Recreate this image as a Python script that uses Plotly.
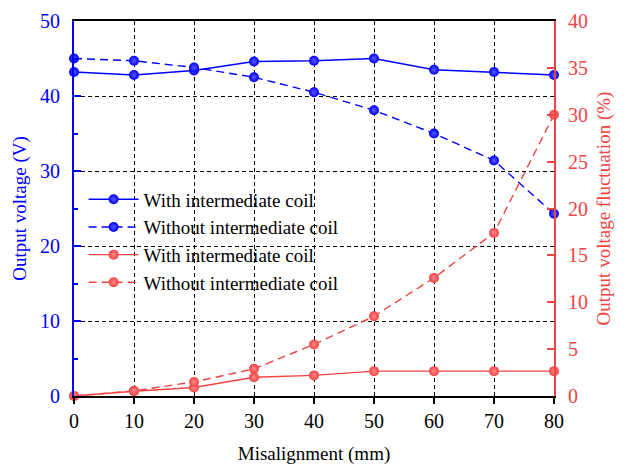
import plotly.graph_objects as go

# Misalignment positions (mm)
misalignment = [0, 10, 20, 30, 40, 50, 60, 70, 80]

# Output voltage (V)
voltage_with = [43.2, 42.8, 43.4, 44.6, 44.7, 45.0, 43.5, 43.2, 42.8]
voltage_without = [45.0, 44.7, 43.8, 42.5, 40.5, 38.1, 35.0, 31.4, 24.3]

# Output voltage fluctuation (%)
fluct_with = [0.0, 0.5, 0.9, 2.0, 2.2, 2.65, 2.65, 2.65, 2.65]
fluct_without = [0.0, 0.55, 1.5, 2.9, 5.5, 8.5, 12.6, 17.4, 30.0]

x_ticks = [0, 10, 20, 30, 40, 50, 60, 70, 80]
left_ticks = [0, 10, 20, 30, 40, 50]
right_ticks = [0, 5, 10, 15, 20, 25, 30, 35, 40]

BLUE = "#0000ff"
RED = "#f04343"
FONT = "Liberation Serif"
FS = 19
TICK_FS = 20


def marker(color, light):
    return dict(size=10, color=color, symbol="circle", line=dict(width=0),
                gradient=dict(type="radial", color=light))


fig = go.Figure()
fig.add_trace(go.Scatter(
    x=misalignment, y=voltage_with, name="With intermediate coil",
    mode="lines+markers", line=dict(color=BLUE, width=1.4),
    marker=marker(BLUE, "#5a5aff"), cliponaxis=False, yaxis="y"))
fig.add_trace(go.Scatter(
    x=misalignment, y=voltage_without, name="Without intermediate coil",
    mode="lines+markers", line=dict(color=BLUE, width=1.4, dash="8px,5px"),
    marker=marker(BLUE, "#5a5aff"), cliponaxis=False, yaxis="y"))
fig.add_trace(go.Scatter(
    x=misalignment, y=fluct_with, name="With intermediate coil",
    mode="lines+markers", line=dict(color=RED, width=1.4),
    marker=marker(RED, "#ff8a8a"), cliponaxis=False, yaxis="y2"))
fig.add_trace(go.Scatter(
    x=misalignment, y=fluct_without, name="Without intermediate coil",
    mode="lines+markers", line=dict(color=RED, width=1.4, dash="8px,5px"),
    marker=marker(RED, "#ff8a8a"), cliponaxis=False, yaxis="y2"))

fig.update_layout(
    width=631, height=471,
    margin=dict(l=74, r=77, t=10, b=74),
    paper_bgcolor="white", plot_bgcolor="white",
    font=dict(family=FONT, size=FS, color="black"),
    showlegend=True,
    legend=dict(x=0.02, y=0.575, xanchor="left", yanchor="top",
                bgcolor="rgba(0,0,0,0)", font=dict(family=FONT, size=FS, color="black"),
                itemwidth=50, tracegroupgap=0, traceorder="normal"),
    xaxis=dict(
        range=[0, 80], tickvals=x_ticks,
        title=dict(text="Misalignment (mm)", font=dict(family=FONT, size=FS), standoff=16),
        showline=True, linecolor="black", linewidth=2, mirror=True,
        ticks="outside", ticklen=6, tickwidth=1.5, tickcolor="black",
        showgrid=True, gridcolor="black", gridwidth=1, griddash="4px,3px",
        zeroline=False, tickfont=dict(family=FONT, size=TICK_FS, color="black"),
    ),
    yaxis=dict(
        range=[0, 50], tickvals=left_ticks,
        title=dict(text="Output voltage (V)", font=dict(family=FONT, size=FS, color=BLUE), standoff=8),
        showline=True, linecolor=BLUE, linewidth=2,
        ticks="inside", ticklen=7, tickwidth=1.5, tickcolor=BLUE,
        minor=dict(ticks="inside", ticklen=4, tickwidth=1.5, tickcolor=BLUE, dtick=5, showgrid=False),
        showgrid=True, gridcolor="black", gridwidth=1, griddash="4px,3px",
        zeroline=False, tickfont=dict(family=FONT, size=TICK_FS, color=BLUE), ticklabelstandoff=8,
    ),
    yaxis2=dict(
        range=[0, 40], tickvals=right_ticks, overlaying="y", side="right",
        title=dict(text="Output voltage fluctuation (%)", font=dict(family=FONT, size=FS, color=RED), standoff=10),
        showline=True, linecolor=RED, linewidth=2,
        ticks="inside", ticklen=7, tickwidth=1.5, tickcolor=RED,
        showgrid=False, zeroline=False, tickfont=dict(family=FONT, size=TICK_FS, color=RED), ticklabelstandoff=8,
    ),
)

fig.write_html("out.html")
